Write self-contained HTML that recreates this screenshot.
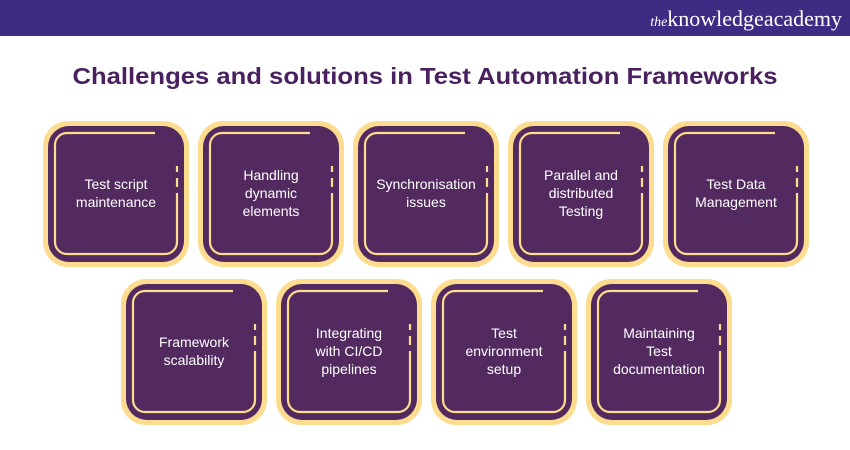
<!DOCTYPE html>
<html><head><meta charset="utf-8"><style>
html,body{margin:0;padding:0;background:#fff;}
svg{display:block}
text{font-family:"Liberation Sans",sans-serif;}
</style></head><body>
<svg width="850" height="450" viewBox="0 0 850 450" xmlns="http://www.w3.org/2000/svg">
<defs>
<g id="b">
<rect x="0" y="0" width="146" height="146" rx="25" fill="#fddc8f"/>
<rect x="5" y="5" width="136" height="136" rx="21" fill="#532a5f"/>
<path d="M112 12 H24 A12 12 0 0 0 12 24 V121 A12 12 0 0 0 24 133 H122 A12 12 0 0 0 134 121 V72 M134 45 V51 M134 57 V66" fill="none" stroke="#fddc8f" stroke-width="2.2"/>
</g>
</defs>
<rect x="0" y="0" width="850" height="36" fill="#3f2b84"/>
<text x="842" y="26" text-anchor="end" font-size="22" fill="#fff" style="font-family:'Liberation Serif',serif"><tspan font-style="italic" font-size="14">the</tspan>knowledge<tspan>academy</tspan></text>
<text x="425" y="84" text-anchor="middle" font-size="23" font-weight="bold" fill="#4a2060" textLength="705" lengthAdjust="spacingAndGlyphs">Challenges and solutions in Test Automation Frameworks</text>
<g fill="#fff" font-size="14" text-anchor="middle">
<use href="#b" x="43" y="121"/>
<text x="116" y="189">Test script</text><text x="116" y="207">maintenance</text>
<use href="#b" x="198" y="121"/>
<text x="271" y="180">Handling</text><text x="271" y="198">dynamic</text><text x="271" y="216">elements</text>
<use href="#b" x="353" y="121"/>
<text x="426" y="189">Synchronisation</text><text x="426" y="207">issues</text>
<use href="#b" x="508" y="121"/>
<text x="581" y="180">Parallel and</text><text x="581" y="198">distributed</text><text x="581" y="216">Testing</text>
<use href="#b" x="663" y="121"/>
<text x="736" y="189">Test Data</text><text x="736" y="207">Management</text>
<use href="#b" x="121" y="279"/>
<text x="194" y="347">Framework</text><text x="194" y="365">scalability</text>
<use href="#b" x="276" y="279"/>
<text x="349" y="338">Integrating</text><text x="349" y="356">with CI/CD</text><text x="349" y="374">pipelines</text>
<use href="#b" x="431" y="279"/>
<text x="504" y="338">Test</text><text x="504" y="356">environment</text><text x="504" y="374">setup</text>
<use href="#b" x="586" y="279"/>
<text x="659" y="338">Maintaining</text><text x="659" y="356">Test</text><text x="659" y="374">documentation</text>
</g>
</svg>
</body></html>
